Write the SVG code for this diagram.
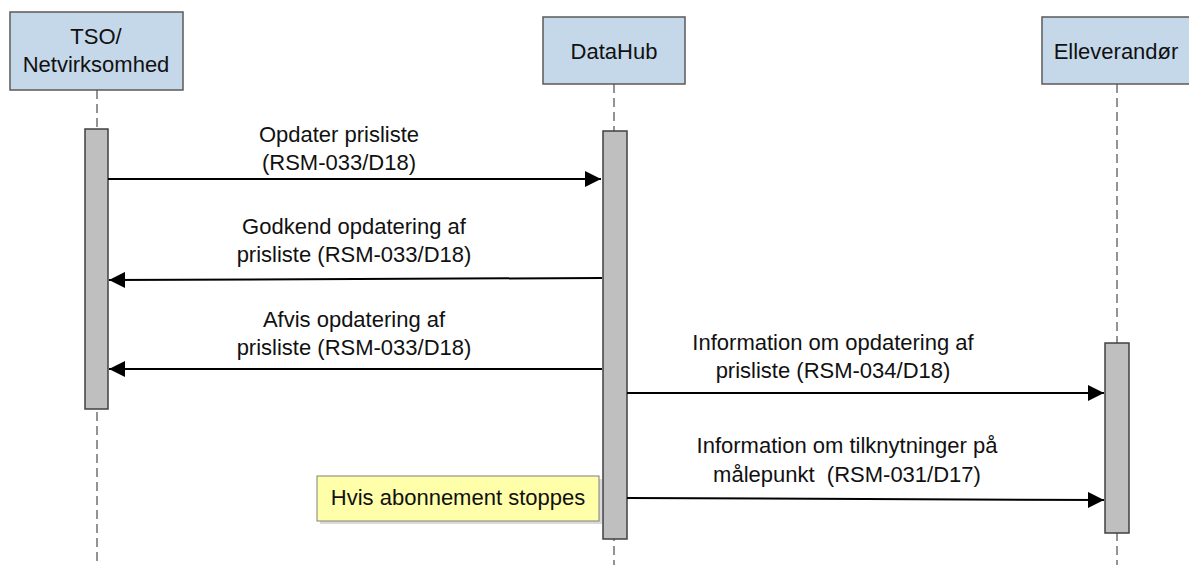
<svg xmlns="http://www.w3.org/2000/svg" width="1189" height="565" viewBox="0 0 1189 565">
<style>
.box{fill:#C5D8EA;stroke:#5A5A5A;stroke-width:1.5}
.life{stroke:#5A5A5A;stroke-width:1.3;stroke-dasharray:9 5;fill:none}
.act{fill:#BFBFBF;stroke:#404040;stroke-width:1.5}
.msg{stroke:#000;stroke-width:2;fill:none;marker-end:url(#ah)}
text{font-family:"Liberation Sans",Arial,sans-serif;font-size:22px;fill:#111;text-anchor:middle}
</style>
<defs>
<marker id="ah" markerUnits="userSpaceOnUse" markerWidth="18" markerHeight="16" refX="16" refY="8" orient="auto">
<path d="M0,0 L16,8 L0,16 Z" fill="#000"/>
</marker>
</defs>
<g id="lifelines">
<line class="life" x1="97" y1="90" x2="97" y2="565"/>
<line class="life" x1="614" y1="84" x2="614" y2="565"/>
<line class="life" x1="1117" y1="84" x2="1117" y2="565"/>
</g>
<g id="tso">
<rect class="box" x="10" y="12" width="173" height="78"/>
<text x="96" y="44">TSO/</text>
<text x="96" y="72">Netvirksomhed</text>
<rect class="act" x="85" y="129" width="23" height="280"/>
</g>
<g id="datahub">
<rect class="box" x="543" y="17" width="142" height="67"/>
<text x="614" y="59">DataHub</text>
<rect class="act" x="603" y="131" width="24" height="408"/>
</g>
<g id="elleverandor">
<rect class="box" x="1042" y="17" width="152" height="67"/>
<text x="1116" y="59">Elleverandør</text>
<rect class="act" x="1105" y="343" width="24" height="190"/>
</g>
<g id="note">
<rect x="320" y="479" width="282" height="45" fill="#DADADA"/>
<rect x="317" y="476" width="282" height="45" fill="#FFFFAA" stroke="#7F7F7F" stroke-width="1"/>
<text x="458" y="505">Hvis abonnement stoppes</text>
</g>
<g id="connectors">
<line class="msg" x1="108" y1="179" x2="601" y2="179"/>
<line class="msg" x1="602" y1="278" x2="109" y2="280"/>
<line class="msg" x1="602" y1="369" x2="109" y2="369"/>
<line class="msg" x1="627" y1="393" x2="1104" y2="393"/>
<line class="msg" x1="627" y1="498" x2="1104" y2="500"/>
</g>
<g id="labels">
<text x="339" y="142">Opdater prisliste</text>
<text x="339" y="170">(RSM-033/D18)</text>
<text x="354" y="234">Godkend opdatering af</text>
<text x="354" y="262">prisliste (RSM-033/D18)</text>
<text x="354" y="327">Afvis opdatering af</text>
<text x="354" y="355">prisliste (RSM-033/D18)</text>
<text x="833" y="350">Information om opdatering af</text>
<text x="833" y="378">prisliste (RSM-034/D18)</text>
<text x="847" y="453">Information om tilknytninger på</text>
<text x="847" y="482" xml:space="preserve">målepunkt  (RSM-031/D17)</text>
</g>
</svg>
